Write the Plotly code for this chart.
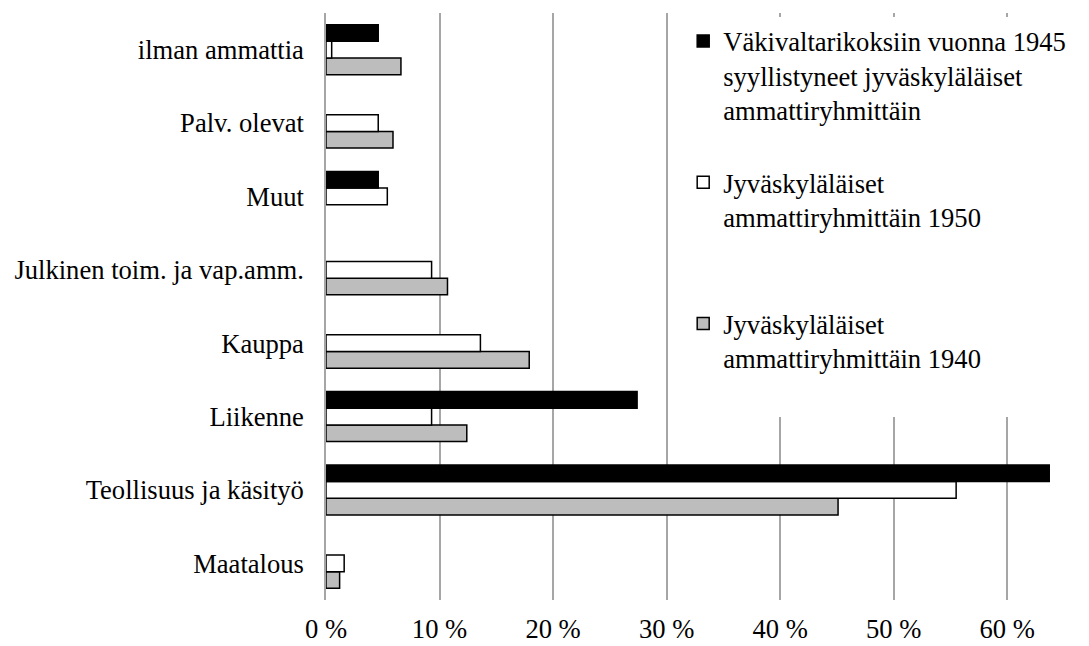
import plotly.graph_objects as go

categories = ["Maatalous", "Teollisuus ja käsityö", "Liikenne", "Kauppa",
              "Julkinen toim. ja vap.amm.", "Muut", "Palv. olevat", "ilman ammattia"]

crimes_1945 = [None, 63.7, 27.4, None, None, 4.6, None, 4.6]
pop_1950 = [1.6, 55.5, 9.3, 13.6, 9.3, 5.4, 4.6, 0.5]
pop_1940 = [1.2, 45.1, 12.4, 17.9, 10.7, None, 5.9, 6.6]

name_1945 = "Väkivaltarikoksiin vuonna 1945<br>syyllistyneet jyväskyläläiset<br>ammattiryhmittäin<br> "
name_1950 = "Jyväskyläläiset<br>ammattiryhmittäin 1950<br> <br> "
name_1940 = "Jyväskyläläiset<br>ammattiryhmittäin 1940<br> "

tick_vals = [0, 10, 20, 30, 40, 50, 60]
tick_text = ["0 %", "10 %", "20 %", "30 %", "40 %", "50 %", "60 %"]

FONT = "Liberation Serif"
FS = 26.6

fig = go.Figure()
fig.add_trace(go.Bar(y=categories, x=pop_1940, orientation="h", name=name_1940,
                     marker=dict(color="#bdbdbd", line=dict(color="black", width=1.5))))
fig.add_trace(go.Bar(y=categories, x=pop_1950, orientation="h", name=name_1950,
                     marker=dict(color="white", line=dict(color="black", width=1.5))))
fig.add_trace(go.Bar(y=categories, x=crimes_1945, orientation="h", name=name_1945,
                     marker=dict(color="black", line=dict(color="black", width=1.5))))

fig.update_layout(
    width=1089, height=646,
    margin=dict(l=326, r=25, t=13, b=46),
    paper_bgcolor="white", plot_bgcolor="white",
    barmode="group", bargap=0.32, bargroupgap=0,
    font=dict(family=FONT, size=FS, color="black"),
    legend=dict(
        x=0.484, y=0.993, xanchor="left", yanchor="top",
        traceorder="reversed", valign="top",
        bgcolor="white", itemwidth=30,
        font=dict(family=FONT, size=FS, color="black"),
        tracegroupgap=0,
    ),
    xaxis=dict(
        range=[0, 65], tickvals=tick_vals, ticktext=tick_text,
        showgrid=True, gridcolor="#a6a6a6", gridwidth=1.5,
        zeroline=False, showline=False, ticks="",
        ticklabelstandoff=10, automargin=False,
    ),
    yaxis=dict(
        categoryorder="array", categoryarray=categories,
        showgrid=False, showline=True, linecolor="#a6a6a6", linewidth=1.5,
        ticks="", ticklabelstandoff=15, automargin=False,
    ),
)

fig.write_html(
    "out.html",
    config={"displayModeBar": False},
    post_script="document.body.style.margin='0';document.body.style.overflow='hidden';",
)
